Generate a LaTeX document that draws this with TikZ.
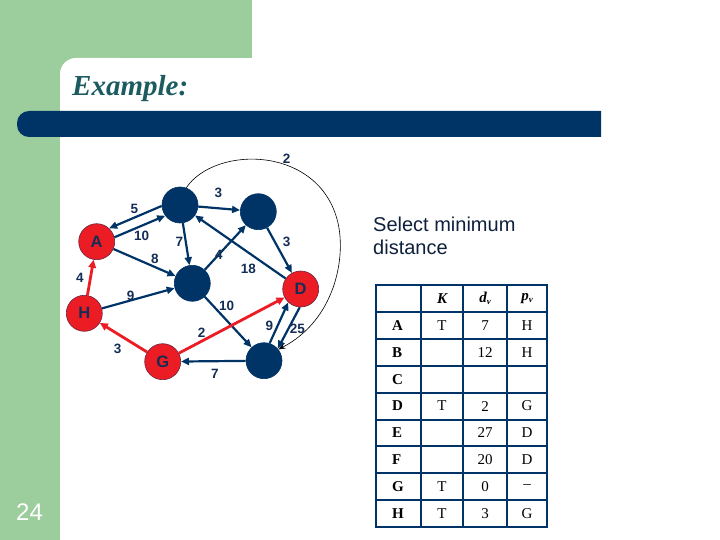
\documentclass[tikz,border=0pt]{standalone}
\usepackage{fontspec}
\setmainfont{Liberation Serif}
\newfontfamily\arial{Liberation Sans}
\usetikzlibrary{arrows.meta}
\definecolor{bggreen}{RGB}{156,205,156}
\definecolor{navy}{RGB}{0,51,102}
\definecolor{titleteal}{RGB}{28,92,96}
\definecolor{nodered}{RGB}{236,28,36}
\definecolor{labelnavy}{RGB}{20,45,85}
\tikzset{
  vtx/.style={circle,minimum size=36pt,inner sep=0pt,fill=navy,draw=navy,line width=0.6pt},
  rvtx/.style={circle,minimum size=36pt,inner sep=0pt,fill=nodered,draw=labelnavy!60!nodered,line width=0.6pt,
    text=labelnavy,font=\arial\bfseries\fontsize{16.5}{18}\selectfont},
  edg/.style={draw=navy,line width=2.2pt,-{Triangle[length=8pt,width=7pt]}},
  redg/.style={draw=nodered,line width=2.8pt,-{Triangle[length=8pt,width=7.5pt]}},
  elab/.style={text=labelnavy,font=\arial\bfseries\fontsize{13.5}{15}\selectfont,inner sep=0pt},
  tcell/.style={font=\fontsize{15}{17}\selectfont,inner sep=0pt},
  tgrid/.style={draw=navy,line width=2pt},
}
\begin{document}
\begin{tikzpicture}[x=1pt,y=-1pt]
\useasboundingbox (0,0) rectangle (720,540);
% background
\fill[bggreen] (0,0) rectangle (252,58);
\fill[bggreen] (0,0) rectangle (60,540);
\fill[bggreen] (60,58) rectangle (80,80);
\fill[white] (60,120) [rounded corners=16] -- (60,58) [sharp corners] -- (120,58) -- (120,120) -- cycle;
\fill[navy] (601,111) [rounded corners=12] -- (17,111) -- (17,137) [sharp corners] -- (601,137) -- cycle;
\node[anchor=base west,inner sep=0pt,text=titleteal,font=\bfseries\itshape\fontsize{29}{31}\selectfont] (title) at (72,96) {Example:};
\node[anchor=base west,inner sep=0pt,text=white,font=\arial\fontsize{24}{26}\selectfont] (pagenum) at (16,520) {24};
\node[anchor=base west,inner sep=0pt,text=labelnavy!70!black,font=\arial\fontsize{20}{22}\selectfont] (sel1) at (373,232) {Select minimum};
\node[anchor=base west,inner sep=0pt,text=labelnavy!70!black,font=\arial\fontsize{20}{22}\selectfont] (sel2) at (373,254.5) {distance};

% vertices
\node[vtx] (B) at (180,205) {};
\node[vtx] (C) at (258.3,211.7) {};
\node[rvtx] (A) at (96.7,241.7) {A};
\node[vtx] (E) at (192.3,283.3) {};
\node[rvtx] (D) at (300.7,289) {D};
\node[rvtx] (H) at (84.3,313.3) {H};
\node[rvtx] (G) at (162.7,361.7) {G};
\node[vtx] (F) at (264,360.7) {};

% edges
\draw[edg] (B.183) -- (A.47);
\draw[edg] (A.14) -- (B.216);
\draw[edg] (B) -- (C);
\draw[edg] (B) -- (E);
\draw[edg] (A) -- (E);
\draw[edg] (E) -- (C);
\draw[edg] (C) -- (D);
\draw[edg] (D) -- (B);
\draw[edg] (H) -- (E);
\draw[edg] (E) -- (F);
\draw[edg] (F.72) -- (D.227);
\draw[edg] (D.267) -- (F.41);
\draw[edg] (F) -- (G);
\draw[redg] (H) -- (A);
\draw[redg] (G) -- (H);
\draw[redg] (G) -- (D);
\draw[black,line width=0.6pt,-{Stealth[length=7pt,width=5pt]}] (B.70) .. controls (215,145) and (320,145) .. (338,223) .. controls (346,258) and (335,320) .. (F.38);

% edge labels
\node[elab] (l1) at (286.7,158.3) {2};
\node[elab] (l2) at (218.3,193.3) {3};
\node[elab] (l3) at (134.3,209) {5};
\node[elab] (l4) at (141.7,236) {10};
\node[elab] (l5) at (179.3,242.3) {7};
\node[elab] (l6) at (155,259.3) {8};
\node[elab] (l7) at (219,255) {4};
\node[elab] (l8) at (286.7,241.7) {3};
\node[elab] (l9) at (248.3,269) {18};
\node[elab] (l10) at (80,277.7) {4};
\node[elab] (l11) at (130.7,296) {9};
\node[elab] (l12) at (226.7,305.7) {10};
\node[elab] (l13) at (269.3,325.7) {9};
\node[elab] (l14) at (297.3,329.3) {25};
\node[elab] (l15) at (201.7,332.7) {2};
\node[elab] (l16) at (117.7,349.3) {3};
\node[elab] (l17) at (215,374.3) {7};

% table grid
\foreach \yy in {311.9,338.8,365.7,392.6,419.5,446.4,473.3,500.2}
  \draw[tgrid] (376,\yy) -- (547,\yy);
\foreach \xx in {421,463,507}
  \draw[tgrid] (\xx,285) -- (\xx,527.1);
\draw[tgrid,line width=2.6pt] (376,285) rectangle (547,527.1);

% table texts
\node[tcell,font=\bfseries\itshape\fontsize{15}{17}\selectfont] (hK) at (442,298.5) {K};
\node[tcell,font=\bfseries\itshape\fontsize{15}{17}\selectfont] (hd) at (485,298.5) {d\raisebox{-0.35ex}{\fontsize{9}{10}\selectfont v}};
\node[tcell,font=\bfseries\itshape\fontsize{15}{17}\selectfont] (hp) at (527,298.5) {p\raisebox{-0.35ex}{\fontsize{9}{10}\selectfont v}};
\foreach \r/\lab/\k/\d/\p [count=\i from 0] in {A/A/T/7/H, B/B//12/H, C/C///, D/D/T/2/G, E/E//27/D, F/F//20/D, G/G/T/0/--, H/H/T/3/G}{
  \pgfmathsetmacro{\cy}{325.35+26.9*\i}
  \node[tcell,font=\bfseries\fontsize{15}{17}\selectfont,anchor=west] (r\r) at (392,\cy) {\lab};
  \node[tcell] (k\r) at (442,\cy) {\k};
  \node[tcell] (d\r) at (485,\cy) {\d};
  \node[tcell] (p\r) at (527,\cy) {\p};
}
\end{tikzpicture}
\end{document}
